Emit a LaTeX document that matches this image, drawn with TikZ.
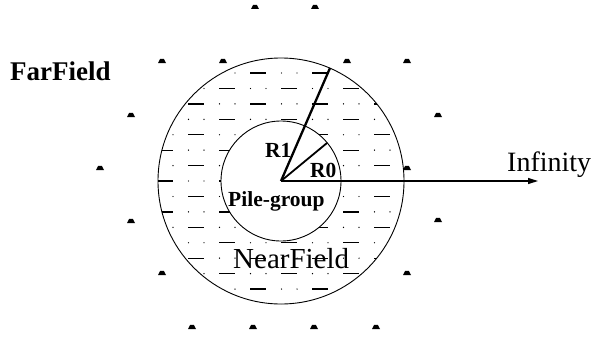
\documentclass[tikz,border=0pt]{standalone}
\usepackage{fontspec}
\setmainfont{Liberation Serif}
\usetikzlibrary{arrows.meta}
\begin{document}
\begin{tikzpicture}[x=1pt,y=-1pt,
  lbl/.style={inner sep=0pt, anchor=base west},
  big/.style={font=\fontsize{28}{28}\selectfont},
  small/.style={font=\fontsize{21.5}{21.5}\selectfont\bfseries},
  hatch/.style={line width=1.3pt},
  ring/.style={line width=0.9pt},
  radius line/.style={line width=2pt},
  mound/.style={fill=black}]
\useasboundingbox (0,0) rectangle (593,337);
\coordinate (c) at (281,181);
\coordinate (r1) at (330,68);
\coordinate (r0) at (327,143);
\coordinate (inf) at (538,181);
% pattern in the near field
\begin{scope}
  \clip (c) circle (123);
  \foreach \j in {0,...,16} {
    \pgfmathsetmacro\yy{57.6+15.43*\j}
    \pgfmathsetmacro\sh{(1-mod(\j,2))*(-31)}
    \foreach \m in {-5,...,5} {
      \pgfmathsetmacro\bx{250+\sh+62*\m}
      \draw[hatch] (\bx,\yy) -- (\bx+16,\yy);
      \fill (\bx+31.5,\yy) circle (0.7);
      \fill (\bx+47,\yy) circle (0.7);
    }
  }
\end{scope}
\fill[white] (c) circle (60);
\draw[ring] (c) circle (123);
\draw[ring] (c) circle (60);
% radii and arrow
\draw[radius line, line width=2.3pt] (c) -- (r1);
\draw[radius line, line width=1.8pt] (c) -- (r0);
\draw[line width=1.4pt, -{Triangle[length=10pt,width=6pt]}] (c) -- (inf);
% far-field marks
\foreach \x/\y in {255/7,315/7,162/61,223/61,347/61,407/61,131/115,438/115,
                   100/168,407/168,131/221,438/220,162/273,407/273,
                   192/327,253/327,314/327,376/327}
  \fill[mound] (\x-4,\y+2) -- (\x-1.8,\y-2.2) -- (\x+1.8,\y-2.2) -- (\x+4,\y+2) -- cycle;
% labels
\node[lbl, font=\fontsize{27}{27}\selectfont\bfseries] (far) at (10,80) {FarField};
\node[lbl, big] (infl) at (507,171) {Infinity};
\node[lbl, big, font=\fontsize{29}{29}\selectfont] (near) at (233,268) {NearField};
\node[lbl, small] (lr1) at (265,157) {R1};
\node[lbl, small] (lr0) at (310,177) {R0};
\node[lbl, small] (pile) at (228,206) {Pile-group};
\end{tikzpicture}
\end{document}
